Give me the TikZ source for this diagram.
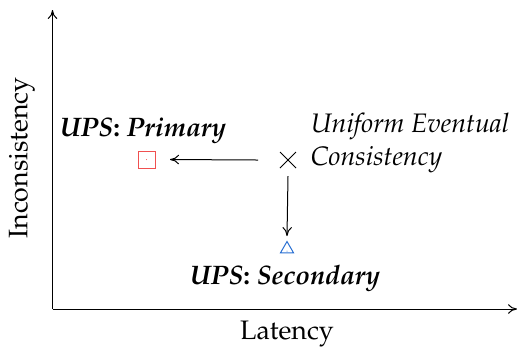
\documentclass[tikz,border=0pt]{standalone}
\usepackage[T1]{fontenc}
\usepackage{mathpazo}
\usetikzlibrary{shapes.misc,shapes.geometric,arrows.meta}
\definecolor{mkred}{RGB}{240,80,80}
\definecolor{mkblue}{RGB}{40,110,210}
\tikzset{
  lbl/.style={font=\fontsize{10.7}{13}\selectfont},
  pt/.style={inner sep=0pt, outer sep=0pt},
  arr/.style={-{To[length=3.6pt,width=3.8pt]}},
}
\begin{document}
\begin{tikzpicture}[x=0.4pt,y=-0.4pt]
\useasboundingbox (0,0) rectangle (518,349);
\coordinate (o) at (52.5,309);
\coordinate (ytop) at (52.5,10);
\coordinate (xend) at (517,309);
\draw[arr] (o) -- (ytop);
\draw[arr] (o) -- (xend);
\node[lbl, rotate=90] (ylab) at (22,158) {Inconsistency};
\node[lbl] (xlab) at (287,334) {Latency};
\node[pt, draw, cross out, minimum size=16*0.4pt, line width=0.4pt] (uec) at (288,160) {};
\node[pt, draw=mkred, minimum size=17*0.4pt, line width=0.4pt] (prim) at (146.5,159.5) {};
\fill[mkred] (prim.center) circle (0.5*0.4pt);
\node[pt, draw=mkblue, regular polygon, regular polygon sides=3, minimum size=15*0.4pt, line width=0.4pt] (sec) at (287,249) {};
\fill[mkblue] (287,251) circle (0.5*0.4pt);
\draw[arr] (uec.west) ++(-22,0) coordinate (a1) (a1) -- (prim.east -| 170,0);
\draw[arr] (uec.south) ++(0,8) coordinate (a2) (a2) -- (287,236) coordinate (a3);
\node[lbl, anchor=base] (plab) at (143,136) {\textbf{\textit{UPS}: \textit{Primary}}};
\node[lbl, anchor=base] (slab) at (285,284) {\textbf{\textit{UPS}: \textit{Secondary}}};
\node[lbl, anchor=west, align=left] (ulab) at (302,143) {\textit{Uniform Eventual}\\\textit{Consistency}};
\end{tikzpicture}
\end{document}
